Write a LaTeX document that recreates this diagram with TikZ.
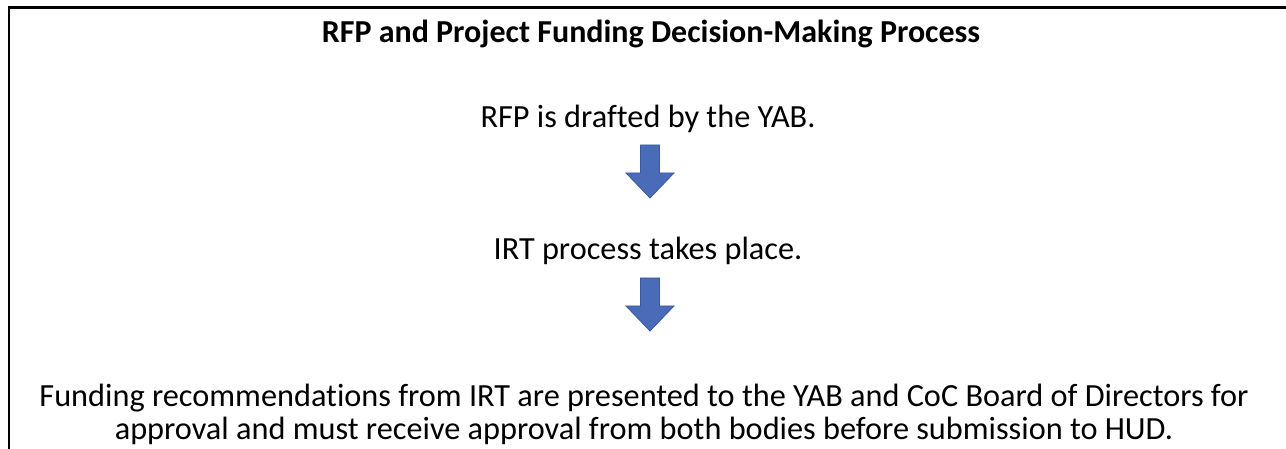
\documentclass[tikz,border=0pt]{standalone}
\usepackage{fontspec}
\setmainfont{Carlito}[Ligatures=NoCommon]
\definecolor{arrowfill}{HTML}{4A6CB8}
\definecolor{arrowline}{HTML}{3A5A9E}
\tikzset{
  frameline/.style={line width=2.6pt, black},
  bodytext/.style={anchor=base, inner sep=0pt, font=\fontsize{32.3}{33}\selectfont, align=center},
  titletext/.style={anchor=base, inner sep=0pt, font=\fontsize{32}{33}\selectfont\bfseries},
  flowarrow/.style={fill=arrowfill, draw=arrowline, line width=0.8pt, line join=miter}
}
\begin{document}
\begin{tikzpicture}[x=1pt,y=-1pt]
\useasboundingbox (0,0) rectangle (1286,449);
\coordinate (tl) at (9,7.5);
\coordinate (tr) at (1287,7.5);
\coordinate (bl) at (9,450);
\draw[frameline] (tr) -- (tl) -- (bl);
\node[titletext] (title) at (651,43) {RFP and Project Funding Decision-Making Process};
\node[bodytext] (s1) at (648,128) {RFP is drafted by the YAB.};
\node[bodytext] (s2) at (648,260) {IRT process takes place.};
\node[bodytext] (s3) at (644,439) {Funding recommendations from IRT are presented to the YAB and CoC Board of Directors for\\approval and must receive approval from both bodies before submission to HUD.};
% arrows
\coordinate (a1) at (650,145);
\coordinate (a2) at (650,278);
\foreach \a in {a1,a2}{
  \draw[flowarrow] ([xshift=-9.5pt]\a) -- ([xshift=9.5pt]\a) -- ([xshift=9.5pt,yshift=-28pt]\a)
    -- ([xshift=24pt,yshift=-28pt]\a) -- ([yshift=-53pt]\a) -- ([xshift=-24pt,yshift=-28pt]\a)
    -- ([xshift=-9.5pt,yshift=-28pt]\a) -- cycle;
}
\end{tikzpicture}
\end{document}
